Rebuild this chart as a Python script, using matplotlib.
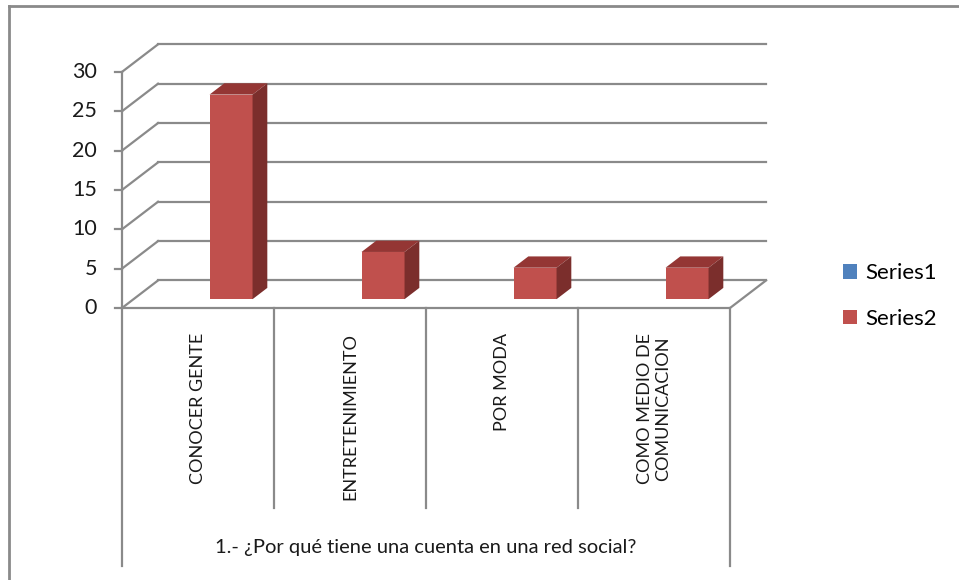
import matplotlib.pyplot as plt
from matplotlib.patches import Polygon, Patch

plt.rcParams['font.family'] = ['Lato', 'DejaVu Sans']

categories = ["CONOCER GENTE", "ENTRETENIMIENTO", "POR MODA", "COMO MEDIO DE\nCOMUNICACION"]
series1 = [0, 0, 0, 0]
series2 = [26, 6, 4, 4]
yticks = [0, 5, 10, 15, 20, 25, 30]
axis_title = "1.- ¿Por qué tiene una cuenta en una red social?"

# oblique 3d look: depth offset in data units
DX = 0.237
DY = 3.5
F0, F1 = 0.32, 0.73          # bar front/back depth fraction
BAR_W = 0.283
GRID = "#8a8a8a"
TXT = "#1a1a1a"

fig = plt.figure(figsize=(9.59, 5.80), dpi=100)
ax = fig.add_axes([0, 0, 1, 1])
# pixel mapping: x px = 122 + 152*x, y px = 308 - 7.87*v
ax.set_xlim(-122 / 152, (959 - 122) / 152)
ax.set_ylim((308 - 580) / 7.87, 308 / 7.87)
ax.axis("off")

# outer chart border
ax.plot([-113 / 152, -113 / 152], [(308 - 580) / 7.87, (308 - 6) / 7.87], color=GRID, lw=2, zorder=1)
ax.plot([-113 / 152, 6], [(308 - 6) / 7.87, (308 - 6) / 7.87], color=GRID, lw=2, zorder=1)

n = len(categories)
for v in yticks:
    ax.plot([DX, n + DX], [v + DY, v + DY], color=GRID, lw=1.6, zorder=2)
    ax.plot([0, DX], [v, v + DY], color=GRID, lw=1.6, zorder=2)
    ax.plot([-0.046, 0], [v, v], color=GRID, lw=1.6, zorder=2)
    ax.text(-0.164, v, str(v), ha="right", va="center", fontsize=15.5, color=TXT)
ax.plot([0, 0], [0, yticks[-1]], color=GRID, lw=1.6, zorder=2)

# floor
ax.plot([0, n, n + DX], [0, 0, DY], color=GRID, lw=1.6, zorder=2)

# category box below the floor
for i in range(n + 1):
    bottom = -32.8 if i in (0, n) else -25.4
    ax.plot([i, i], [0, bottom], color=GRID, lw=1.6, zorder=2)

for i, lab in enumerate(categories):
    ax.text(i + 0.5, -3.2, lab, rotation=90, ha="center", va="top", fontsize=13,
            color=TXT, linespacing=1.1)
ax.text(n / 2, -30.4, axis_title, ha="center", va="center", fontsize=14.5, color=TXT)


def bar3d(x0, v, front, top, side):
    xa, xb = x0 + F0 * DX, x0 + BAR_W + F0 * DX
    xc, xd = x0 + F1 * DX, x0 + BAR_W + F1 * DX
    ya, yb = F0 * DY, F1 * DY
    ax.add_patch(Polygon([(xa, ya), (xb, ya), (xb, ya + v), (xa, ya + v)], closed=True,
                         facecolor=front, edgecolor="none", zorder=5))
    ax.add_patch(Polygon([(xa, ya + v), (xb, ya + v), (xd, yb + v), (xc, yb + v)], closed=True,
                         facecolor=top, edgecolor="none", zorder=5))
    ax.add_patch(Polygon([(xb, ya), (xd, yb), (xd, yb + v), (xb, ya + v)], closed=True,
                         facecolor=side, edgecolor="none", zorder=5))


for i in range(n):
    if series1[i] > 0:
        bar3d(i + 0.5 - BAR_W, series1[i], "#4F81BD", "#3C6696", "#2C4D75")
    if series2[i] > 0:
        bar3d(i + 0.5, series2[i], "#C0504D", "#943634", "#7B2E2C")

handles = [Patch(facecolor="#4F81BD", label="Series1"),
           Patch(facecolor="#C0504D", label="Series2")]
ax.legend(handles=handles, loc="center left", bbox_to_anchor=(843 / 959, 1 - 296 / 580),
          frameon=False, fontsize=16, handlelength=0.65, handleheight=0.65,
          handletextpad=0.35, labelspacing=1.15, borderpad=0, borderaxespad=0)

fig.savefig("out.png", dpi=100)
